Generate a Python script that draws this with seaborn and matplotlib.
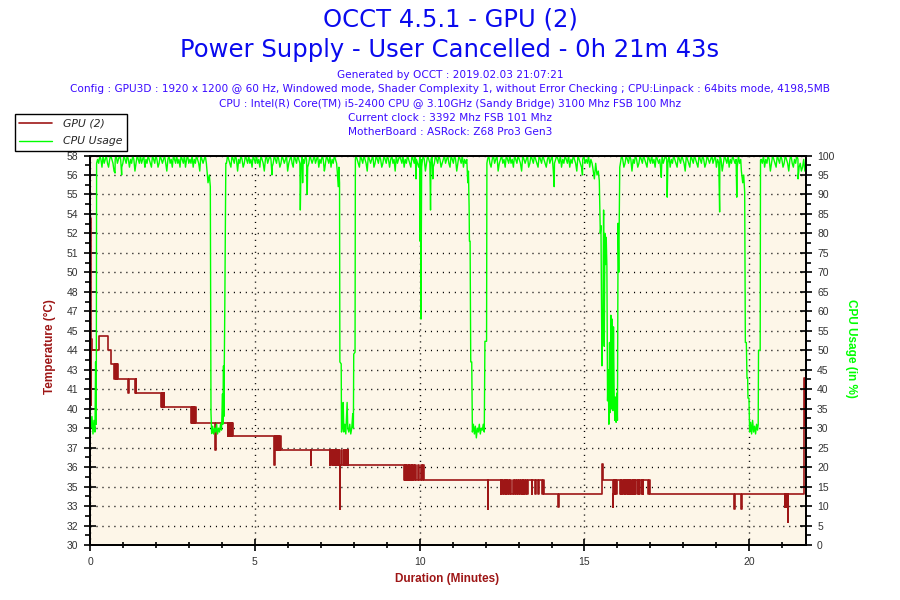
import numpy as np
import pandas as pd
import matplotlib
matplotlib.use("Agg")
import matplotlib.pyplot as plt
import seaborn as sns
from matplotlib.lines import Line2D
from matplotlib.ticker import FixedLocator, MultipleLocator

# ------------------------------------------------------------------ data
title_main = "OCCT 4.5.1 - GPU (2)"
title_sub = "Power Supply - User Cancelled - 0h 21m 43s"
info_lines = [
    "Generated by OCCT : 2019.02.03 21:07:21",
    "Config : GPU3D : 1920 x 1200 @ 60 Hz, Windowed mode, Shader Complexity 1, without Error Checking ; CPU:Linpack : 64bits mode, 4198,5MB",
    "CPU : Intel(R) Core(TM) i5-2400 CPU @ 3.10GHz (Sandy Bridge) 3100 Mhz FSB 100 Mhz",
    "Current clock : 3392 Mhz FSB 101 Mhz",
    "MotherBoard : ASRock: Z68 Pro3 Gen3",
]
series_names = ["GPU (2)", "CPU Usage"]

temp_range = (30, 58)
temp_tick_labels = ["30", "32", "33", "35", "36", "37", "39", "40", "41", "43", "44",
                    "45", "47", "48", "50", "51", "52", "54", "55", "56", "58"]
cpu_range = (0, 100)
cpu_tick_labels = [str(v) for v in range(0, 101, 5)]
minute_ticks = [0, 5, 10, 15, 20]
duration_minutes = 21.72

# GPU temperature change points (minute, degC), drawn as steps
gpu_steps_a = [
    (0.00, 55.4), (0.015, 53.5), (0.03, 40.1), (0.045, 44.8), (0.06, 44.0),
    (0.27, 45.0), (0.56, 44.0), (0.63, 43.0),
    (0.74, 41.9), (0.76, 43.0), (0.78, 41.9), (0.79, 43.0), (0.81, 41.9), (0.83, 43.0), (0.845, 41.9),
    (1.16, 40.9), (1.175, 41.9),
    (1.35, 40.9), (1.365, 41.9), (1.38, 40.9), (1.395, 41.9), (1.41, 40.9),
    (2.16, 39.9), (2.175, 40.9), (2.19, 39.9), (2.205, 40.9), (2.22, 39.9), (2.235, 40.9), (2.25, 39.9),
    (3.07, 38.8), (3.085, 39.9), (3.10, 38.8), (3.115, 39.9), (3.13, 38.8), (3.145, 39.9),
    (3.16, 38.8), (3.175, 39.9), (3.19, 38.8), (3.20, 39.9), (3.21, 38.8),
    (3.80, 36.8), (3.83, 38.8),
    (4.19, 37.8), (4.20, 38.8), (4.215, 37.8), (4.23, 38.8), (4.245, 37.8), (4.26, 38.8),
    (4.275, 37.8), (4.29, 38.8), (4.30, 37.8), (4.315, 38.8), (4.33, 37.8),
]
gpu_steps_b = [
    (5.58, 36.8), (5.59, 35.75), (5.60, 36.8), (5.615, 37.8), (5.63, 36.8), (5.645, 37.8),
    (5.66, 36.8), (5.69, 37.8), (5.71, 36.8), (5.725, 37.8), (5.74, 36.8), (5.76, 37.8), (5.78, 36.8),
    (6.69, 35.75), (6.705, 36.8),
    (7.27, 35.75), (7.29, 36.8), (7.31, 35.75), (7.33, 36.8), (7.36, 35.75), (7.38, 36.8),
    (7.40, 35.75), (7.42, 36.8), (7.44, 35.75), (7.46, 36.8), (7.48, 35.75), (7.50, 36.8),
    (7.52, 35.75), (7.54, 36.8), (7.56, 35.75), (7.58, 32.6), (7.59, 35.75), (7.62, 36.8),
    (7.64, 35.75), (7.70, 36.8), (7.72, 35.75), (7.76, 36.8), (7.78, 35.75), (7.82, 36.8), (7.84, 35.75),
    (9.54, 34.7), (9.555, 35.75), (9.57, 34.7), (9.585, 35.75), (9.60, 34.7), (9.63, 35.75),
    (9.66, 34.7), (9.675, 35.75), (9.69, 34.7), (9.72, 35.75), (9.75, 34.7), (9.765, 35.75),
    (9.78, 34.7), (9.81, 35.75), (9.84, 34.7), (9.87, 35.75), (9.90, 34.7), (9.96, 35.75),
    (9.975, 34.7), (10.04, 35.75), (10.06, 34.7), (10.10, 35.75), (10.12, 34.7),
]
gpu_steps_c = [
    (12.06, 32.6), (12.07, 34.7),
    (12.46, 33.7), (12.48, 34.7), (12.51, 33.7), (12.53, 34.7), (12.56, 33.7), (12.58, 34.7),
    (12.61, 33.7), (12.63, 34.7), (12.66, 33.7), (12.67, 34.7), (12.72, 33.7), (12.74, 34.7),
    (12.78, 33.7), (12.83, 34.7), (12.86, 33.7), (12.88, 34.7), (12.93, 33.7), (12.95, 34.7),
    (12.98, 33.7), (13.02, 34.7), (13.05, 33.7), (13.07, 34.7), (13.10, 33.7), (13.12, 34.7),
    (13.15, 33.7), (13.17, 34.7), (13.21, 33.7), (13.23, 34.7), (13.26, 33.7), (13.28, 34.7),
    (13.40, 33.7), (13.42, 34.7), (13.50, 33.7), (13.52, 34.7), (13.60, 33.7), (13.62, 34.7),
    (13.72, 33.7), (13.74, 34.7), (13.76, 33.7),
    (14.20, 32.7), (14.215, 33.7),
]
gpu_steps_d = [
    (15.52, 35.2), (15.535, 35.8), (15.55, 35.2), (15.565, 34.7),
    (15.86, 33.7), (15.87, 32.7), (15.88, 33.7), (15.90, 34.7), (15.92, 33.7), (15.94, 34.7),
    (15.96, 33.7), (15.98, 34.7), (16.08, 33.7), (16.10, 34.7), (16.12, 33.7), (16.14, 34.7),
    (16.18, 33.7), (16.20, 34.7), (16.22, 33.7), (16.24, 34.7), (16.27, 33.7), (16.29, 34.7),
    (16.31, 33.7), (16.33, 34.7), (16.35, 33.7), (16.37, 34.7), (16.39, 33.7), (16.41, 34.7),
    (16.44, 33.7), (16.46, 34.7), (16.48, 33.7), (16.50, 34.7), (16.52, 33.7), (16.54, 34.7),
    (16.60, 33.7), (16.62, 34.7), (16.64, 33.7), (16.66, 34.7), (16.72, 33.7), (16.74, 34.7),
    (16.77, 33.7), (16.79, 34.7), (16.93, 33.7), (16.95, 34.7), (17.00, 33.7),
    (19.55, 32.6), (19.565, 33.7), (19.76, 32.6), (19.775, 33.7),
    (21.07, 32.7), (21.09, 33.7), (21.10, 32.7), (21.115, 33.7), (21.16, 31.65), (21.18, 33.7),
    (21.66, 42.0), (21.69, 38.6), (21.71, 35.75), (21.72, 35.75),
]

# CPU usage: busy stretches (start min, end min) with their sampled values (%)
cpu_run_spans = [(0.23, 3.53), (4.14, 7.48), (8.07, 11.43), (12.06, 15.23), (16.09, 19.74), (20.36, 21.72)]
cpu_run1 = [99, 98, 100, 99, 97, 100, 98, 99, 100, 98, 97, 99, 100, 99, 98, 96, 99, 100, 98, 99,
            100, 99, 97, 98, 100, 99, 98, 100, 99, 97, 99, 98, 100, 99, 96, 98, 100, 99, 98, 100,
            98, 99, 100, 97, 99, 98, 100, 99, 98, 97, 100, 99, 98, 100, 99, 97, 98, 100, 99, 98,
            99, 100, 98, 96, 99, 100, 98, 99, 97, 100, 99, 98, 100, 98, 99, 97, 100, 99, 98, 100,
            97, 99, 100, 98, 99, 98, 100, 97, 99, 98, 100, 99, 98, 96, 100, 99, 98, 99, 100, 98]
cpu_run2 = [98, 100, 99, 98, 97, 100, 99, 98, 100, 99, 96, 99, 98, 100, 99, 97, 98, 100, 99, 98,
            100, 98, 99, 97, 100, 99, 98, 100, 98, 99, 97, 100, 99, 98, 96, 99, 100, 98, 99, 100,
            99, 97, 98, 100, 99, 98, 100, 99, 97, 98, 100, 99, 98, 99, 100, 96, 98, 99, 100, 98,
            97, 100, 99, 98, 100, 99, 98, 97, 100, 99, 98, 100, 99, 97, 98, 100, 99, 98, 99, 100,
            98, 99, 100, 97, 99, 98, 100, 99, 96, 98, 100, 99, 98, 100, 97, 99, 98, 100, 99, 98]
cpu_run3 = [100, 99, 98, 97, 100, 99, 98, 100, 99, 98, 96, 100, 99, 98, 99, 100, 97, 98, 100, 99,
            98, 100, 99, 97, 98, 100, 99, 98, 100, 99, 97, 99, 100, 98, 99, 96, 100, 98, 99, 100,
            99, 98, 100, 97, 99, 98, 100, 99, 98, 97, 100, 99, 98, 100, 99, 98, 97, 100, 99, 98,
            100, 99, 96, 98, 100, 99, 98, 99, 100, 97, 98, 100, 99, 98, 100, 99, 97, 98, 99, 100,
            98, 99, 100, 98, 97, 100, 99, 98, 100, 99, 96, 98, 100, 99, 98, 100, 97, 99, 98, 99]
cpu_run4 = [99, 100, 98, 97, 99, 100, 98, 99, 100, 96, 98, 99, 100, 98, 99, 97, 100, 99, 98, 100,
            98, 99, 97, 100, 99, 98, 100, 99, 98, 96, 100, 99, 98, 99, 100, 97, 98, 100, 99, 98,
            100, 99, 98, 97, 100, 99, 98, 100, 99, 98, 97, 99, 100, 98, 99, 100, 96, 98, 99, 100,
            99, 98, 100, 97, 99, 98, 100, 99, 98, 100, 97, 99, 98, 100, 99, 98, 96, 100, 99, 98,
            97, 99, 100, 98, 99, 98, 100, 97, 99, 98]
cpu_run5 = [98, 100, 99, 97, 98, 100, 99, 98, 100, 99, 96, 99, 98, 100, 99, 97, 98, 100, 99, 98,
            100, 99, 98, 97, 100, 99, 98, 100, 98, 99, 97, 100, 99, 98, 99, 96, 100, 98, 99, 100,
            99, 98, 100, 97, 99, 98, 100, 99, 98, 97, 100, 99, 98, 100, 99, 98, 96, 100, 99, 98,
            97, 100, 99, 98, 100, 99, 98, 97, 100, 99, 98, 100, 99, 97, 98, 100, 99, 98, 99, 100,
            98, 99, 100, 97, 99, 98, 100, 99, 96, 98, 100, 99, 98, 100, 97, 99, 98, 100, 99, 98,
            99, 97, 100, 98, 99]
cpu_run6 = [99, 98, 100, 97, 99, 98, 100, 99, 96, 98, 100, 99, 98, 97, 100, 99, 98, 100, 99, 97,
            98, 100, 99, 98, 96, 99, 100, 98, 97, 99, 98, 100, 99, 97, 98, 96, 97, 99, 96, 96]

# CPU usage readings (minute, %) around the drops
cpu_start = [(0.00, 35), (0.03, 30), (0.06, 33), (0.09, 28.5), (0.12, 32), (0.15, 29),
             (0.17, 47), (0.19, 31), (0.20, 98)]
cpu_spikes = [(0.76, 95.5), (0.96, 95), (1.67, 97), (5.52, 95), (6.38, 86), (6.45, 93),
              (6.59, 90), (7.12, 96.5), (9.89, 94), (10.33, 86), (10.40, 94), (14.08, 92),
              (14.94, 95), (17.33, 94.4), (17.51, 89.3), (19.10, 85.5), (19.62, 89.3), (21.48, 94)]
cpu_drop1 = [(3.55, 96), (3.58, 93), (3.62, 95), (3.65, 92), (3.67, 34), (3.69, 28.6), (3.72, 30.5),
             (3.75, 28.5), (3.78, 30), (3.81, 29), (3.84, 31), (3.87, 28.5), (3.90, 30), (3.93, 29),
             (3.96, 31), (3.99, 29.5), (4.02, 38.8), (4.03, 31), (4.05, 46), (4.06, 33), (4.09, 62),
             (4.12, 98)]
cpu_drop2 = [(7.50, 96), (7.53, 92), (7.55, 97), (7.57, 93), (7.58, 47), (7.62, 46.5), (7.63, 29),
             (7.66, 30.5), (7.68, 36.6), (7.70, 29), (7.73, 31), (7.76, 28.5), (7.80, 36.6),
             (7.82, 30), (7.85, 29), (7.88, 31), (7.91, 28.5), (7.94, 30), (7.97, 33.7), (7.99, 30),
             (8.00, 49), (8.04, 49.5), (8.05, 99)]
cpu_drop_10min = [(9.99, 98), (10.01, 78), (10.02, 96), (10.04, 58), (10.06, 97)]
cpu_drop3 = [(11.44, 97), (11.46, 93), (11.48, 96), (11.50, 87), (11.51, 78), (11.53, 78),
             (11.55, 47), (11.58, 47), (11.60, 29), (11.63, 31), (11.66, 28.5), (11.69, 30.5),
             (11.72, 27.5), (11.75, 30), (11.78, 29), (11.81, 31), (11.84, 28.5), (11.87, 30),
             (11.90, 29.5), (11.93, 31), (11.96, 29), (11.98, 52.3), (12.03, 52.3), (12.04, 98)]
cpu_drop4 = [(15.25, 97), (15.30, 94), (15.34, 98), (15.38, 95), (15.42, 96), (15.45, 93.5),
             (15.48, 80), (15.50, 82), (15.53, 46), (15.56, 60), (15.58, 86), (15.60, 51),
             (15.62, 80), (15.64, 72), (15.66, 79), (15.68, 71.5), (15.70, 37), (15.72, 45),
             (15.74, 31), (15.76, 52), (15.78, 34), (15.80, 59), (15.82, 35), (15.84, 58),
             (15.86, 34.5), (15.88, 56), (15.90, 39), (15.92, 32), (15.94, 38), (15.96, 31.5),
             (15.98, 39), (16.00, 32), (16.02, 82.6), (16.04, 70), (16.07, 97)]
cpu_drop5 = [(19.76, 96), (19.80, 93), (19.83, 95), (19.86, 90.6), (19.88, 52), (19.91, 52),
             (19.93, 42.8), (19.95, 42.8), (19.96, 37.7), (19.99, 37.7), (20.01, 29), (20.04, 31.5),
             (20.07, 28.5), (20.10, 32), (20.13, 29), (20.16, 30.5), (20.19, 28.5), (20.22, 31),
             (20.25, 29.5), (20.27, 31), (20.28, 50), (20.33, 50), (20.34, 98.8)]

# ------------------------------------------------------------------ tables
gpu_pts = gpu_steps_a + gpu_steps_b + gpu_steps_c + gpu_steps_d
gpu_df = pd.DataFrame(gpu_pts, columns=["minute", "temp"])

cpu_parts = []
for (t0, t1), vals in zip(cpu_run_spans, [cpu_run1, cpu_run2, cpu_run3, cpu_run4, cpu_run5, cpu_run6]):
    cpu_parts.append(pd.DataFrame({"minute": np.linspace(t0, t1, len(vals)), "usage": vals}))
for pts in [cpu_start, cpu_spikes, cpu_drop1, cpu_drop2, cpu_drop_10min, cpu_drop3, cpu_drop4, cpu_drop5]:
    cpu_parts.append(pd.DataFrame(pts, columns=["minute", "usage"]))
cpu_df = pd.concat(cpu_parts).sort_values("minute", kind="mergesort").reset_index(drop=True)

# ------------------------------------------------------------------ style
sns.set_style("white")
plt.rcParams["font.family"] = ["DejaVu Sans"]

RED = "#9E1616"
GREEN = "#00FF00"
TITLE_BLUE = "#0A0AEE"
INFO_BLUE = "#3A0AFF"
PLOT_BG = "#FDF6E8"
TICK_COL = "#333333"
TICK_FONT = "Liberation Sans"

fig = plt.figure(figsize=(9, 6), dpi=100)
fig.patch.set_facecolor("white")
ax = fig.add_axes([90 / 900, 1 - 545 / 600, 716 / 900, 389.5 / 600])
ax.set_facecolor(PLOT_BG)
ax2 = ax.twinx()
ax2.patch.set_visible(False)

sns.lineplot(data=gpu_df, x="minute", y="temp", ax=ax, color=RED, lw=1.2,
             drawstyle="steps-post", estimator=None, sort=False, legend=False)
sns.lineplot(data=cpu_df, x="minute", y="usage", ax=ax2, color=GREEN, lw=1.0,
             estimator=None, sort=False, legend=False)

ax.set_xlim(0, duration_minutes)
ax.set_ylim(*temp_range)
ax2.set_ylim(*cpu_range)

temp_tick_pos = np.linspace(temp_range[0], temp_range[1], len(temp_tick_labels))
ax.yaxis.set_major_locator(FixedLocator(temp_tick_pos))
ax.set_yticklabels(temp_tick_labels)
ax.yaxis.set_minor_locator(FixedLocator((temp_tick_pos[:-1] + temp_tick_pos[1:]) / 2))
ax.set_xticks(minute_ticks)
ax.set_xticklabels([str(m) for m in minute_ticks])
ax.xaxis.set_minor_locator(MultipleLocator(1))
cpu_tick_pos = np.linspace(cpu_range[0], cpu_range[1], len(cpu_tick_labels))
ax2.yaxis.set_major_locator(FixedLocator(cpu_tick_pos))
ax2.set_yticklabels(cpu_tick_labels)
ax2.yaxis.set_minor_locator(MultipleLocator(2.5))

for a in (ax, ax2):
    a.set_xlabel("")
    a.set_ylabel("")
    for s in a.spines.values():
        s.set_color("black")
        s.set_linewidth(1.3)

ax.tick_params(axis="y", which="major", direction="inout", length=9, width=1.2,
               color="black", pad=4, labelsize=7.5, labelcolor=TICK_COL, left=True)
ax.tick_params(axis="y", which="minor", direction="out", length=3.5, width=1.2,
               color="black", left=True)
ax.tick_params(axis="x", which="major", direction="inout", length=9, width=1.2,
               color="black", pad=4, labelsize=7.5, labelcolor=TICK_COL, bottom=True)
ax.tick_params(axis="x", which="minor", direction="inout", length=4, width=1.2,
               color="black", bottom=True)
ax2.tick_params(axis="y", which="major", direction="inout", length=9, width=1.2,
                color="black", pad=3.5, labelsize=7.5, labelcolor=TICK_COL, right=True)
ax2.tick_params(axis="y", which="minor", direction="out", length=3.5, width=1.2,
                color="black", right=True)
for lab in ax.get_xticklabels() + ax.get_yticklabels() + ax2.get_yticklabels():
    lab.set_fontfamily(TICK_FONT)

dots = (0, (0.8, 3.5))
ax.set_axisbelow(True)
ax.grid(True, axis="y", which="major", color="black", lw=1.0, linestyle=dots)
ax.grid(True, axis="x", which="major", color="black", lw=1.0, linestyle=dots)

# titles and info
fig.text(0.5, 1 - 20 / 600, title_main, ha="center", va="center", fontsize=17.5, color=TITLE_BLUE)
fig.text(0.5, 1 - 50 / 600, title_sub, ha="center", va="center", fontsize=17.5, color=TITLE_BLUE)
for i, line in enumerate(info_lines):
    fig.text(0.5, 1 - (75 + 14.3 * i) / 600, line, ha="center", va="center",
             fontsize=7.6, color=INFO_BLUE)

# axis titles
fig.text(50 / 900, 1 - 347 / 600, "Temperature (°C)", rotation=90, ha="center", va="center",
         fontsize=8.5, fontweight="bold", color=RED, family=TICK_FONT)
fig.text(851 / 900, 1 - 348 / 600, "CPU Usage (in %)", rotation=270, ha="center", va="center",
         fontsize=8.5, fontweight="bold", color=GREEN, family=TICK_FONT)
fig.text(447 / 900, 1 - 579 / 600, "Duration (Minutes)", ha="center", va="center",
         fontsize=8.5, fontweight="bold", color=RED, family=TICK_FONT)

# legend
handles = [Line2D([0], [0], color=RED, lw=1.2), Line2D([0], [0], color=GREEN, lw=1.0)]
leg = fig.legend(handles, series_names, loc="upper left", bbox_to_anchor=(15 / 900, 1 - 114 / 600),
                 frameon=True, fancybox=False, framealpha=1, edgecolor="black",
                 prop={"style": "italic", "size": 7.8}, handlelength=3.0, handletextpad=1.0,
                 labelspacing=0.75, borderpad=0.4, borderaxespad=0)
leg.get_frame().set_linewidth(1.0)

fig.savefig("out.png", dpi=100)
